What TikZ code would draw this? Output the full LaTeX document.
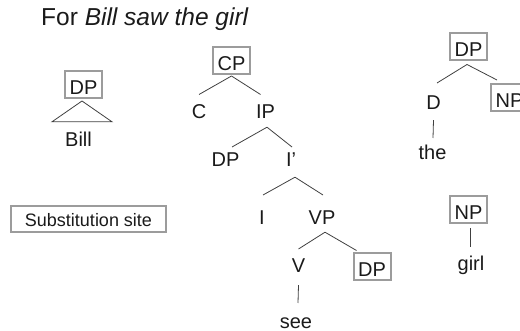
\documentclass[tikz,border=0pt]{standalone}
\usepackage{fontspec}
\setmainfont{Liberation Sans}
\usetikzlibrary{calc}
\definecolor{ink}{HTML}{1A1A1A}
\definecolor{edge}{HTML}{404040}
\definecolor{frame}{HTML}{9C9C9C}
\begin{document}
\begin{tikzpicture}[x=1pt,y=-1pt,
  every node/.style={text=ink},
  lab/.style={inner sep=0pt, anchor=base, text height=14.3pt, text depth=0pt,
    font=\fontsize{20}{24}\selectfont},
  word/.style={inner sep=0pt, anchor=base, font=\fontsize{20}{24}\selectfont},
  site/.style={lab, draw=frame, line width=2pt, text height=23.5pt, text depth=3.5pt,
    minimum width=37pt},
  branch/.style={draw=edge, line width=0.8pt}]
\useasboundingbox (0,0) rectangle (520,331);
\clip (0,0) rectangle (520,331);

% heading
\node[inner sep=0pt, anchor=base west, font=\fontsize{24.5}{28}\selectfont] (title) at (41,26)
  {For \textit{Bill saw the girl}};

% DP with a triangle over "Bill"
\node[site] (DPb) at (83.5,95) {DP};
\node[word] (Bill) at (78.5,147) {Bill};
\draw[branch] ([xshift=-1.5pt,yshift=-1.5pt]DPb.south)
  -- ([xshift=-26.5pt,yshift=10.5pt]Bill.north)
  -- ([xshift=33.5pt,yshift=10.5pt]Bill.north) -- cycle;

% legend
\node[lab, draw=frame, line width=2pt, font=\fontsize{18}{22}\selectfont,
  text height=20.7pt, text depth=5.3pt, minimum width=155pt] (legend) at (88.5,226.7)
  {Substitution site};

% main clause tree
\node[site] (CP) at (231.5,70.5) {CP};
\node[lab] (C) at (199,119) {C};
\node[lab] (IP) at (265.5,119) {IP};
\node[lab] (DPs) at (225.5,167) {DP};
\node[lab] (Ibar) at (291,167) {I’};
\node[lab] (I) at (262,225) {I};
\node[lab] (VP) at (322,225) {VP};
\node[lab] (V) at (298.5,273) {V};
\node[site] (DPo) at (372,277) {DP};
\node[word] (see) at (296,328.5) {see};

\draw[branch] ([yshift=-1pt]CP.south) -- ([yshift=10pt]C.north);
\draw[branch] ([yshift=-1pt]CP.south) -- ([xshift=-5pt,yshift=10pt]IP.north);
\draw[branch] ([xshift=1.5pt,yshift=-8pt]IP.south) -- ([xshift=6.5pt,yshift=5.5pt]DPs.north);
\draw[branch] ([xshift=1.5pt,yshift=-8pt]IP.south) -- ([xshift=1pt,yshift=5.5pt]Ibar.north);
\draw[branch] ([xshift=4pt,yshift=-10pt]Ibar.south) -- ([xshift=1pt,yshift=15.5pt]I.north);
\draw[branch] ([xshift=4pt,yshift=-10pt]Ibar.south) -- ([xshift=1pt,yshift=15.5pt]VP.north);
\draw[branch] ([xshift=3pt,yshift=-7pt]VP.south) -- ([yshift=9.5pt]V.north);
\draw[branch] ([xshift=3pt,yshift=-7pt]VP.south) -- ([xshift=4pt,yshift=2pt]DPo.north west);
\draw[branch] ([yshift=-12pt]V.south) -- ([xshift=2pt,yshift=25.5pt]see.base);

% elementary tree for "the"
\node[site] (DPr) at (468.5,57) {DP};
\node[lab] (D) at (433.5,110) {D};
\node[site] (NPr) at (509.5,108) {NP};
\node[word] (the) at (432.5,160) {the};
\draw[branch] ([xshift=-1.5pt,yshift=-3pt]DPr.south) -- ([xshift=3.5pt,yshift=12.5pt]D.north);
\draw[branch] ([xshift=-1.5pt,yshift=-3pt]DPr.south) -- ([xshift=7pt,yshift=3.5pt]NPr.north west);
\draw[branch] ([yshift=-10pt]D.south) -- ([xshift=0.5pt,yshift=22pt]the.base);

% elementary tree for "girl"
\node[site] (NPg) at (468.5,220) {NP};
\node[word] (girl) at (471,271) {girl};
\draw[branch] ([xshift=1.5pt,yshift=-4pt]NPg.south) -- ([xshift=-1pt,yshift=24pt]girl.base);
\end{tikzpicture}
\end{document}
